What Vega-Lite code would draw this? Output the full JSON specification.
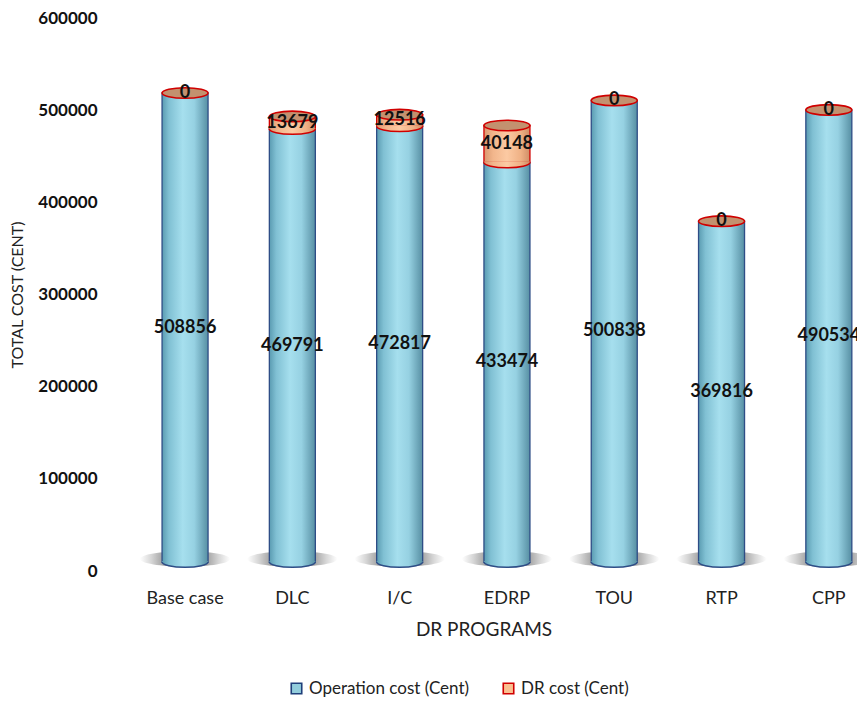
{
  "$schema": "https://vega.github.io/schema/vega-lite/v6.json",
  "width": 747,
  "height": 553,
  "autosize": {"type": "none"},
  "padding": {"left": 110, "top": 18, "right": 0, "bottom": 133},
  "background": "white",
  "config": {"view": {"stroke": null}, "font": "Lato"},
  "data": {
    "values": [
      {"program": "Base case", "series": "Operation cost (Cent)", "value": 508856},
      {"program": "Base case", "series": "DR cost (Cent)", "value": 0},
      {"program": "DLC", "series": "Operation cost (Cent)", "value": 469791},
      {"program": "DLC", "series": "DR cost (Cent)", "value": 13679},
      {"program": "I/C", "series": "Operation cost (Cent)", "value": 472817},
      {"program": "I/C", "series": "DR cost (Cent)", "value": 12516},
      {"program": "EDRP", "series": "Operation cost (Cent)", "value": 433474},
      {"program": "EDRP", "series": "DR cost (Cent)", "value": 40148},
      {"program": "TOU", "series": "Operation cost (Cent)", "value": 500838},
      {"program": "TOU", "series": "DR cost (Cent)", "value": 0},
      {"program": "RTP", "series": "Operation cost (Cent)", "value": 369816},
      {"program": "RTP", "series": "DR cost (Cent)", "value": 0},
      {"program": "CPP", "series": "Operation cost (Cent)", "value": 490534},
      {"program": "CPP", "series": "DR cost (Cent)", "value": 0}
    ]
  },
  "transform": [
    {"stack": "value", "groupby": ["program"], "sort": [{"field": "series", "order": "descending"}], "as": ["v0", "v1"]},
    {"calculate": "(datum.v0 + datum.v1) / 2", "as": "mid"}
  ],
  "encoding": {
    "x": {
      "field": "program",
      "type": "nominal",
      "sort": ["Base case", "DLC", "I/C", "EDRP", "TOU", "RTP", "CPP"],
      "scale": {"paddingInner": 0.5, "paddingOuter": 0.231, "align": 0.973},
      "axis": {
        "title": "DR PROGRAMS",
        "titleFont": "Lato",
        "titleFontSize": 19,
        "titleFontWeight": "normal",
        "titleColor": "#222222",
        "titlePadding": 13,
        "labelFont": "Lato",
        "labelFontSize": 18,
        "labelColor": "#222222",
        "labelAngle": 0,
        "labelPadding": 18,
        "domain": false,
        "ticks": false,
        "grid": false
      }
    }
  },
  "layer": [
    {
      "transform": [{"filter": "datum.program == 'DLC'"}],
      "mark": {"type": "point", "shape": "square", "filled": true, "opacity": 1, "size": 100},
      "encoding": {
        "y": {"datum": 200000, "type": "quantitative", "scale": {"domain": [0, 600000], "nice": false}},
        "fill": {
          "field": "series", "type": "nominal",
          "scale": {"domain": ["Operation cost (Cent)", "DR cost (Cent)"], "range": ["#92cddc", "#fac090"]},
          "legend": {"orient": "none", "legendX": 178, "legendY": 662, "direction": "horizontal", "title": null, "labelFont": "Lato", "labelFontSize": 17, "labelColor": "#222222", "labelLimit": 400, "symbolType": "square", "symbolSize": 110, "symbolStrokeWidth": 1.6, "columnPadding": 30, "labelOffset": 4}
        },
        "stroke": {
          "field": "series", "type": "nominal",
          "scale": {"domain": ["Operation cost (Cent)", "DR cost (Cent)"], "range": ["#1f3f7a", "#d00000"]},
          "legend": {"orient": "none", "legendX": 178, "legendY": 662, "direction": "horizontal", "title": null, "labelFont": "Lato", "labelFontSize": 17, "labelColor": "#222222", "labelLimit": 400, "symbolType": "square", "symbolSize": 110, "symbolStrokeWidth": 1.6, "columnPadding": 30, "labelOffset": 4}
        }
      }
    },
    {
      "transform": [{"filter": "datum.series == 'Operation cost (Cent)'"}],
      "mark": {
        "type": "point", "filled": true, "opacity": 1, "size": 8100, "yOffset": -12,
        "shape": "M -1 0 A 1 0.17 0 1 0 1 0 A 1 0.17 0 1 0 -1 0 Z",
        "fill": {"gradient": "radial", "x1": 0.5, "y1": 0.5, "r1": 0, "x2": 0.5, "y2": 0.5, "r2": 0.5,
          "stops": [{"offset": 0, "color": "#6e6e6e"}, {"offset": 0.45, "color": "#9a9a9a"}, {"offset": 0.75, "color": "#d6d6d6"}, {"offset": 1, "color": "#ffffff"}]}
      },
      "encoding": {"y": {"datum": 0, "type": "quantitative"}}
    },
    {
      "transform": [{"filter": "datum.series == 'Operation cost (Cent)'"}],
      "mark": {
        "type": "bar", "size": 46, "yOffset": -9, "y2Offset": -9, "stroke": "#2e4d86", "strokeWidth": 1.3,
        "fill": {"gradient": "linear", "x1": 0, "y1": 0, "x2": 1, "y2": 0,
          "stops": [{"offset": 0, "color": "#5a9bb1"}, {"offset": 0.15, "color": "#80c0d3"}, {"offset": 0.45, "color": "#a6dfee"}, {"offset": 0.7, "color": "#96d1e2"}, {"offset": 1, "color": "#578fa3"}]}
      },
      "encoding": {
        "y": {"field": "v0", "type": "quantitative", "scale": {"domain": [0, 600000], "nice": false},
          "axis": {"title": "TOTAL COST (CENT)", "titleFont": "Lato", "titleFontSize": 16, "titleFontWeight": "normal", "titleColor": "#222222", "titlePadding": 12,
            "labelFont": "Lato", "labelFontSize": 17, "labelFontWeight": "bold", "labelColor": "#111111", "labelPadding": 13,
            "domain": false, "ticks": false, "grid": false, "format": "d", "values": [0, 100000, 200000, 300000, 400000, 500000, 600000]}},
        "y2": {"field": "v1"}
      }
    },
    {
      "transform": [{"filter": "datum.series == 'Operation cost (Cent)'"}],
      "mark": {
        "type": "point", "filled": true, "opacity": 1, "size": 2116, "yOffset": -9,
        "shape": "M -1 -0.04 L -1 0 A 1 0.23 0 0 0 1 0 L 1 -0.04 Z",
        "fill": {"gradient": "linear", "x1": 0, "y1": 0, "x2": 1, "y2": 0,
          "stops": [{"offset": 0, "color": "#5a9bb1"}, {"offset": 0.15, "color": "#80c0d3"}, {"offset": 0.45, "color": "#a6dfee"}, {"offset": 0.7, "color": "#96d1e2"}, {"offset": 1, "color": "#578fa3"}]}
      },
      "encoding": {"y": {"field": "v0", "type": "quantitative"}}
    },
    {
      "transform": [{"filter": "datum.series == 'Operation cost (Cent)'"}],
      "mark": {"type": "point", "filled": false, "opacity": 1, "size": 2116, "yOffset": -9, "stroke": "#2e4d86", "strokeWidth": 1.5,
        "shape": "M -1 0 A 1 0.23 0 0 0 1 0"},
      "encoding": {"y": {"field": "v0", "type": "quantitative"}}
    },
    {
      "transform": [{"filter": "datum.series == 'DR cost (Cent)' && datum.value > 0"}],
      "mark": {
        "type": "bar", "size": 46, "yOffset": -9, "y2Offset": -9, "stroke": "#d00000", "strokeWidth": 1.3,
        "fill": {"gradient": "linear", "x1": 0, "y1": 0, "x2": 1, "y2": 0,
          "stops": [{"offset": 0, "color": "#d99870"}, {"offset": 0.2, "color": "#f2b68c"}, {"offset": 0.5, "color": "#fccaa3"}, {"offset": 0.8, "color": "#efb185"}, {"offset": 1, "color": "#cf8d66"}]}
      },
      "encoding": {"y": {"field": "v0", "type": "quantitative"}, "y2": {"field": "v1"}}
    },
    {
      "transform": [{"filter": "datum.series == 'DR cost (Cent)' && datum.value > 0"}],
      "mark": {
        "type": "point", "filled": true, "opacity": 1, "size": 2116, "yOffset": -9,
        "shape": "M -1 -0.04 L -1 0 A 1 0.23 0 0 0 1 0 L 1 -0.04 Z",
        "fill": {"gradient": "linear", "x1": 0, "y1": 0, "x2": 1, "y2": 0,
          "stops": [{"offset": 0, "color": "#d99870"}, {"offset": 0.2, "color": "#f2b68c"}, {"offset": 0.5, "color": "#fccaa3"}, {"offset": 0.8, "color": "#efb185"}, {"offset": 1, "color": "#cf8d66"}]}
      },
      "encoding": {"y": {"field": "v0", "type": "quantitative"}}
    },
    {
      "transform": [{"filter": "datum.series == 'DR cost (Cent)' && datum.value > 0"}],
      "mark": {"type": "point", "filled": false, "opacity": 1, "size": 2116, "yOffset": -9, "stroke": "#d00000", "strokeWidth": 1.5,
        "shape": "M -1 0 A 1 0.23 0 0 0 1 0"},
      "encoding": {"y": {"field": "v0", "type": "quantitative"}}
    },
    {
      "transform": [{"filter": "datum.series == 'DR cost (Cent)'"}],
      "mark": {"type": "point", "filled": true, "opacity": 1, "size": 2116, "yOffset": -9,
        "fill": "#c3916f", "stroke": "#d00000", "strokeWidth": 1.6,
        "shape": "M -1 0 A 1 0.23 0 1 0 1 0 A 1 0.23 0 1 0 -1 0 Z"},
      "encoding": {"y": {"field": "v1", "type": "quantitative"}}
    },
    {
      "mark": {"type": "text", "font": "Lato", "fontSize": 18, "fontWeight": "bold", "color": "#111111", "baseline": "middle", "yOffset": -9},
      "encoding": {
        "y": {"field": "mid", "type": "quantitative"},
        "text": {"field": "value", "type": "quantitative", "format": "d"}
      }
    }
  ]
}
